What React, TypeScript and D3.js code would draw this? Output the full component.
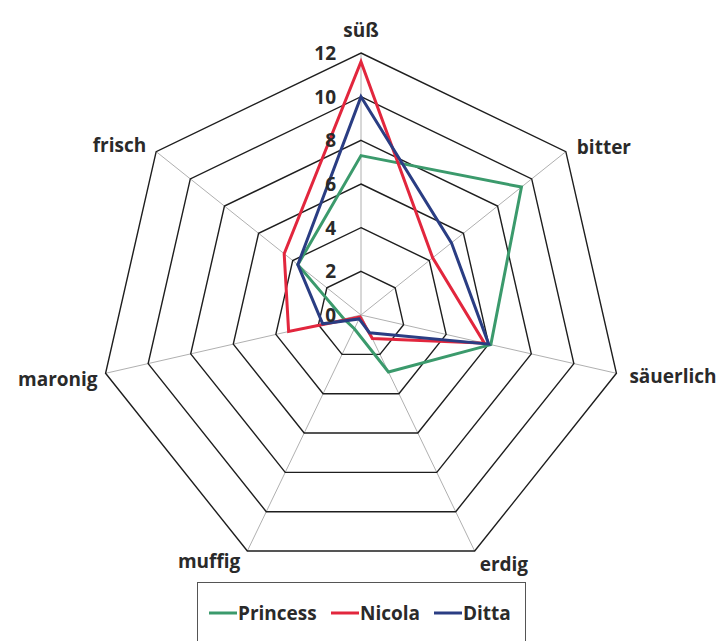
import React, { useEffect, useRef } from "react";
import * as d3 from "d3";

const axes = ["süß", "bitter", "säuerlich", "erdig", "muffig", "maronig", "frisch"];
const ticks = [0, 2, 4, 6, 8, 10, 12];
const princess = [7.3, 9.4, 6.1, 2.9, 0.7, 0.8, 3.7];
const nicola = [11.6, 4.2, 5.8, 1.2, 0.1, 3.4, 4.5];
const ditta = [10, 5.3, 6, 0.9, 0.2, 1.8, 3.7];

const seriesNames = ["Princess", "Nicola", "Ditta"];
const seriesColors = ["#3b9a6c", "#e2263d", "#2a3d83"];

const RadarChart: React.FC = () => {
  const svgRef = useRef<SVGSVGElement | null>(null);

  useEffect(() => {
    if (!svgRef.current) return;

    const width = 716;
    const height = 641;
    const cx = 361;
    const cy = 315;
    const font = "'Open Sans', 'Noto Sans', sans-serif";

    d3.select(svgRef.current).selectAll("*").remove();

    const svg = d3.select(svgRef.current).attr("width", width).attr("height", height);

    const r = d3.scaleLinear().domain([0, 12]).range([0, 262]);
    const angle = d3
      .scaleLinear()
      .domain([0, axes.length])
      .range([0, 2 * Math.PI]);

    const g = svg.append("g").attr("transform", `translate(${cx}, ${cy})`);

    const pt = (i: number, v: number): [number, number] => [
      r(v) * Math.sin(angle(i)),
      -r(v) * Math.cos(angle(i)),
    ];

    // spokes
    g.selectAll(".spoke")
      .data(axes)
      .enter()
      .append("line")
      .attr("x1", 0)
      .attr("y1", 0)
      .attr("x2", (_, i) => pt(i, 12)[0])
      .attr("y2", (_, i) => pt(i, 12)[1])
      .attr("stroke", "#b0b0b0")
      .attr("stroke-width", 1);

    // rings
    g.selectAll(".ring")
      .data(ticks.filter((t) => t > 0))
      .enter()
      .append("polygon")
      .attr("points", (t) => axes.map((_, i) => pt(i, t).join(",")).join(" "))
      .attr("fill", "none")
      .attr("stroke", "#1e1e1e")
      .attr("stroke-width", 1.4);

    // series
    const line = d3
      .lineRadial<number>()
      .angle((_, i) => angle(i))
      .radius((d) => r(d))
      .curve(d3.curveLinearClosed);

    [princess, nicola, ditta].forEach((vals, k) => {
      g.append("path")
        .attr("d", line(vals))
        .attr("fill", "none")
        .attr("stroke", seriesColors[k])
        .attr("stroke-width", 3)
        .attr("stroke-linejoin", "miter");
    });

    // tick labels
    g.selectAll(".tick")
      .data(ticks)
      .enter()
      .append("text")
      .attr("x", -25)
      .attr("y", (t) => -r(t))
      .attr("dy", "0.36em")
      .attr("text-anchor", "end")
      .attr("font-family", font)
      .attr("font-weight", 700)
      .attr("font-size", 19)
      .attr("fill", "#2a2a2a")
      .text((t) => t);

    // axis labels
    const labelPos: [number, number, string][] = [
      [0, -23, "middle"],
      [11, -5, "start"],
      [13, 3, "start"],
      [5, 13, "start"],
      [-7, 10, "end"],
      [-8, 6, "end"],
      [-10, -7, "end"],
    ];
    g.selectAll(".axis-label")
      .data(axes)
      .enter()
      .append("text")
      .attr("x", (_, i) => pt(i, 12)[0] + labelPos[i][0])
      .attr("y", (_, i) => pt(i, 12)[1] + labelPos[i][1])
      .attr("dy", "0.36em")
      .attr("text-anchor", (_, i) => labelPos[i][2])
      .attr("font-family", font)
      .attr("font-weight", 700)
      .attr("font-size", 19)
      .attr("fill", "#2a2a2a")
      .text((d) => d);

    // legend
    const legend = svg.append("g");
    legend
      .append("rect")
      .attr("x", 197.5)
      .attr("y", 582.5)
      .attr("width", 328)
      .attr("height", 80)
      .attr("fill", "none")
      .attr("stroke", "#555")
      .attr("stroke-width", 1);

    const legendX = [209, 331, 434];
    seriesNames.forEach((name, k) => {
      legend
        .append("line")
        .attr("x1", legendX[k])
        .attr("x2", legendX[k] + 28)
        .attr("y1", 613)
        .attr("y2", 613)
        .attr("stroke", seriesColors[k])
        .attr("stroke-width", 3);
      legend
        .append("text")
        .attr("x", legendX[k] + 29)
        .attr("y", 613)
        .attr("dy", "0.36em")
        .attr("font-family", font)
        .attr("font-weight", 700)
        .attr("font-size", 19)
        .attr("fill", "#2a2a2a")
        .text(name);
    });
  }, []);

  return (
    <svg
      ref={svgRef}
      style={{ position: "absolute", left: 0, top: 0, display: "block" }}
    ></svg>
  );
};

export default function App() {
  return <RadarChart />;
}
